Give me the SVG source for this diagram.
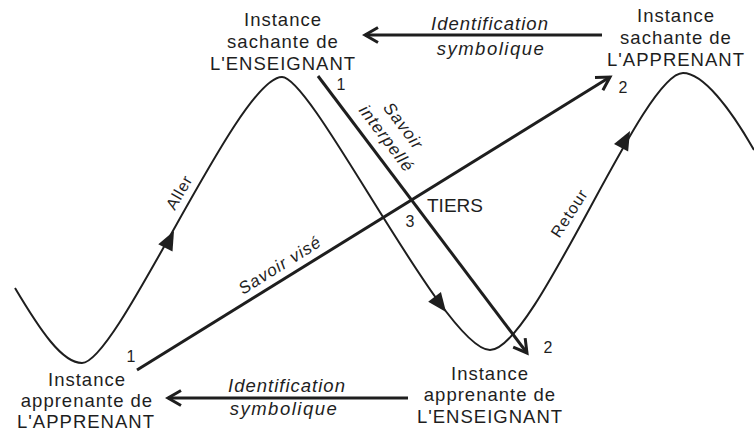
<svg xmlns="http://www.w3.org/2000/svg" xmlns:xlink="http://www.w3.org/1999/xlink" width="754" height="433" viewBox="0 0 754 433">
<style>
.t{font-family:"Liberation Sans",Arial,sans-serif;fill:#1e1e1e}
.node{font-size:18.5px;letter-spacing:1px;text-anchor:middle}
.it{font-style:italic}
.num{font-size:16px;text-anchor:middle}
.lbl{font-size:16px;letter-spacing:1px;text-anchor:middle}
.line{fill:none;stroke:#1e1e1e;stroke-width:3}
.curve{fill:none;stroke:#1e1e1e;stroke-width:2}
</style>
<defs>
<marker id="chev" markerUnits="userSpaceOnUse" markerWidth="20" markerHeight="20" viewBox="0 0 20 20" refX="17" refY="10" orient="auto">
<path d="M4,2.5 L17,10 L4,17.5" fill="none" stroke="#1e1e1e" stroke-width="3"/>
</marker>
<path id="tri" d="M0,0 L-19,-8 L-19,8 Z" fill="#1e1e1e"/>
</defs>
<rect width="754" height="433" fill="#fff"/>

<g id="connectors">
<path class="curve" d="M15,288 C40,330 62,363 82,363 C118,363 238,77 282,77 C313,77 445,350 490,350 C535,350 642,73 683,73 C703,73 730,108 754,150"/>
<use xlink:href="#tri" transform="translate(174,231) rotate(-63)"/>
<use xlink:href="#tri" transform="translate(446,312) rotate(53)"/>
<use xlink:href="#tri" transform="translate(630,131) rotate(-62)"/>
<line class="line" x1="137" y1="370" x2="610" y2="77" marker-end="url(#chev)"/>
<line class="line" x1="318" y1="76" x2="527" y2="353" marker-end="url(#chev)"/>
<line class="line" x1="602" y1="35" x2="365" y2="35" marker-end="url(#chev)"/>
<line class="line" x1="408" y1="398" x2="168" y2="398" marker-end="url(#chev)"/>
<text class="t lbl" transform="translate(184,195) rotate(-60)">Aller</text>
<text class="t lbl" transform="translate(574,216) rotate(-57)">Retour</text>
<text class="t lbl it" style="font-size:17px" transform="translate(283,270) rotate(-32)">Savoir visé</text>
<text class="t lbl it" style="font-size:17px" transform="translate(382,142) rotate(53)"><tspan x="0" y="-21">Savoir</tspan><tspan x="0" y="0">interpellé</tspan></text>
<text class="t node it" x="490" y="30">Identification</text>
<text class="t node it" style="letter-spacing:1.5px" x="491" y="55">symbolique</text>
<text class="t node it" x="287" y="392">Identification</text>
<text class="t node it" style="letter-spacing:1.5px" x="284" y="415">symbolique</text>
<text class="t num" x="341" y="90">1</text>
<text class="t num" x="623" y="93">2</text>
<text class="t num" x="131" y="362">1</text>
<text class="t num" x="410" y="227">3</text>
<text class="t num" x="548" y="353">2</text>
</g>

<g id="node-sachante-enseignant">
<text class="t node" x="283" y="26">Instance</text>
<text class="t node" x="283" y="48">sachante de</text>
<text class="t node" x="283" y="70">L'ENSEIGNANT</text>
</g>
<g id="node-sachante-apprenant">
<text class="t node" x="676" y="22">Instance</text>
<text class="t node" x="676" y="44">sachante de</text>
<text class="t node" x="676" y="66">L'APPRENANT</text>
</g>
<g id="node-apprenante-apprenant">
<text class="t node" x="87" y="386">Instance</text>
<text class="t node" x="87" y="407">apprenante de</text>
<text class="t node" x="86" y="428">L'APPRENANT</text>
</g>
<g id="node-apprenante-enseignant">
<text class="t node" x="490" y="380">Instance</text>
<text class="t node" x="490" y="401">apprenante de</text>
<text class="t node" x="490" y="423">L'ENSEIGNANT</text>
</g>
<g id="node-tiers">
<text class="t" style="font-size:19px" x="427" y="212">TIERS</text>
</g>
</svg>
